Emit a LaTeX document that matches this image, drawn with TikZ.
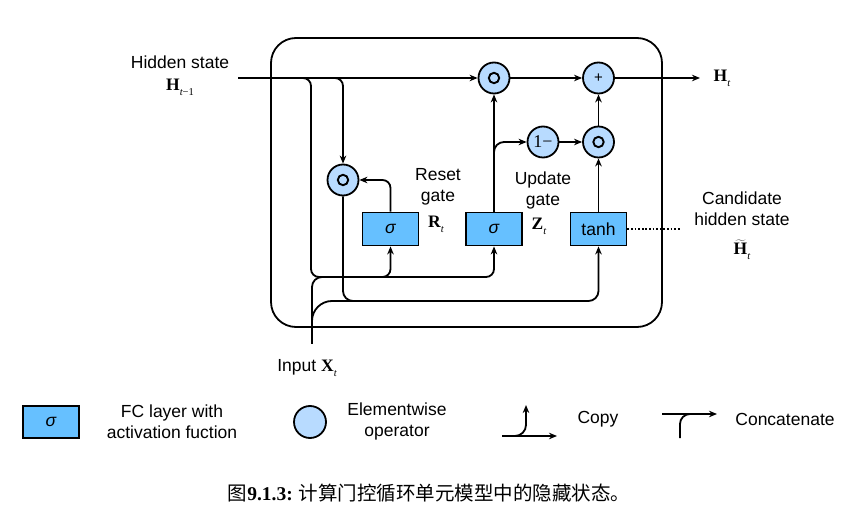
\RequirePackage{fix-cm}
\documentclass[tikz,border=0pt]{standalone}
\usepackage[no-math]{fontspec}
\setmainfont{Liberation Sans}
\newfontfamily\cjkfont{Noto Sans CJK SC}
\newfontfamily\serifb{Liberation Serif}
\usetikzlibrary{arrows.meta}
\definecolor{boxblue}{RGB}{102,192,255}
\definecolor{opblue}{RGB}{184,219,255}
\newcommand{\vsym}[2]{{\serifb\bfseries #1}\raisebox{-0.55ex}{\serifb\fontsize{10.5}{11}\selectfont #2}}
\begin{document}
\begin{tikzpicture}[x=1pt,y=-1pt,
  lw/.style={line width=1.8pt},
  arr/.style={lw,-{Stealth[length=8pt,width=6.5pt,inset=2.5pt]}},
  fc/.style={draw,lw,fill=boxblue,minimum width=56pt,minimum height=33pt,inner sep=0pt,font=\fontsize{17.5}{20}\selectfont},
  op/.style={draw,lw,fill=opblue,circle,minimum size=31pt,inner sep=0pt},
  odot/.style={op,path picture={\draw[line width=1.9pt] (path picture bounding box.center) circle (5.2pt); \fill (path picture bounding box.center) circle (2pt);}},
  lbl/.style={font=\fontsize{17.5}{21}\selectfont,align=center,inner sep=0pt},
  mth/.style={font=\fontsize{17.5}{19}\selectfont,inner sep=0pt},
]
\useasboundingbox (0,0) rectangle (862,526);
% cell frame
\node[draw,lw,rounded corners=25pt,minimum width=391pt,minimum height=289pt,inner sep=0pt] (cell) at (466.5,182.5) {};
% operators and layers
\node[odot] (o1) at (494,78) {};
\node[op] (plus) at (598.5,78) {\fontsize{15}{15}\selectfont +};
\node[op] (onem) at (543,142) {\serifb\fontsize{18}{18}\selectfont 1−};
\node[odot] (o2) at (598.5,142) {};
\node[odot] (o3) at (343,180) {};
\node[fc] (s1) at (390.5,229) {\itshape σ};
\node[fc] (s2) at (494,229) {\itshape σ};
\node[fc] (th) at (598.5,229) {tanh};
% free ends
\coordinate (hin) at (238,78);
\coordinate (hout) at (700,78);
\coordinate (xin) at (312,344);
\coordinate (dotend) at (680,229);
% connectors
\draw[arr] (hin) -- (o1.west);
\draw[arr] (o1.east) -- (plus.west);
\draw[arr] (plus.east) -- (hout);
\draw[arr,rounded corners=8pt] (300,78) -| (311,277) -| (s2.south);
\draw[arr,rounded corners=8pt] (370,277) -| (s1.south);
\draw[arr,rounded corners=8pt] (330,78) -| (o3.north);
\draw[arr,rounded corners=10pt] (o3.south) |- (450,301) -| (th.south);
\draw[lw,rounded corners=10pt] (xin) |- (335,277);
\draw[lw,rounded corners=20pt] (xin) |- (365,301);
\draw[arr,rounded corners=8pt] (s1.north) |- (o3.east);
\draw[arr] (s2.north) -- (o1.south);
\draw[arr,rounded corners=10pt] (494,170) |- (onem.west);
\draw[arr] (onem.east) -- (o2.west);
\draw[arr] (th.north) -- (o2.south);
\draw[arr] (o2.north) -- (plus.south);
\draw[line width=1.3pt,dash pattern=on 1.8pt off 1.8pt] (th.east) -- (dotend);
% labels
\node[lbl] (hs) at (180,62) {Hidden state};
\node[mth] (hsm) at (180,87) {\vsym{H}{\itshape t\upshape−1}};
\node[lbl] (rg) at (438,187) {Reset\\gate};
\node[mth] (rgm) at (436,224) {\vsym{R}{\itshape t}};
\node[lbl] (ug) at (543,190) {Update\\gate};
\node[mth] (ugm) at (539,226) {\vsym{Z}{\itshape t}};
\node[lbl] (ch) at (742,209) {Candidate\\hidden state};
\node[mth] (chm) at (742,250) {$\widetilde{\hbox{\serifb\bfseries H}}$\raisebox{-0.55ex}{\serifb\fontsize{10.5}{11}\selectfont\itshape t}};
\node[mth] (hom) at (722,78) {\vsym{H}{\itshape t}};
\node[lbl] (inp) at (307,368) {Input \vsym{X}{\itshape t}};
% legend
\node[fc,minimum height=32pt] (lfc) at (51,422) {\itshape σ};
\node[lbl] (lfct) at (172,421.5) {FC layer with\\activation fuction};
\node[op,minimum size=32pt] (lop) at (310,422) {};
\node[lbl] (lopt) at (397,421.5) {Elementwise\\operator};
\coordinate (ca) at (502,436);
\coordinate (cb) at (557,436);
\coordinate (cc) at (526,405);
\draw[arr] (ca) -- (cb);
\draw[arr,rounded corners=11pt] (ca) -| (cc);
\node[lbl] (lcp) at (598,419) {Copy};
\coordinate (ka) at (662,414);
\coordinate (kb) at (717,414);
\coordinate (kc) at (680,438);
\draw[arr] (ka) -- (kb);
\draw[lw,rounded corners=10pt] (kc) |- (700,414);
\node[lbl] (lct) at (785,419) {Concatenate};
% caption
\node[inner sep=0pt] (cap) at (429,493) {\cjkfont\fontsize{19.5}{20}\selectfont 图{\serifb\bfseries 9.1.3:} 计算门控循环单元模型中的隐藏状态。};
\end{tikzpicture}
\end{document}
